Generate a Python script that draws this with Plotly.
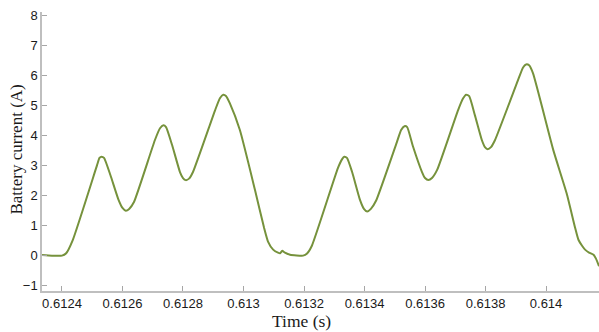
import plotly.graph_objects as go

# Data (time in s, current in A)
time_s = [
    0.612334, 0.612367, 0.612400, 0.612413, 0.612436, 0.612516, 0.612524, 0.612531, 0.612539,
    0.612560, 0.612587, 0.612600, 0.612611, 0.612622, 0.612638,
    0.612707, 0.612724, 0.612735, 0.612744,
    0.612764, 0.612790, 0.612800, 0.612809, 0.612820, 0.612833,
    0.612906, 0.612922, 0.612933, 0.612942, 0.612955,
    0.612988, 0.613038, 0.613068, 0.613081, 0.613098, 0.613114, 0.613121, 0.613128, 0.613137,
    0.613154, 0.613197, 0.613210, 0.613226,
    0.613312, 0.613326, 0.613333, 0.613342,
    0.613359, 0.613385, 0.613398, 0.613409, 0.613421, 0.613438,
    0.613507, 0.613521, 0.613532, 0.613541,
    0.613560, 0.613590, 0.613600, 0.613611, 0.613623, 0.613640,
    0.613709, 0.613726, 0.613736, 0.613746,
    0.613765, 0.613788, 0.613798, 0.613807, 0.613818, 0.613831,
    0.613907, 0.613924, 0.613934, 0.613944, 0.613957,
    0.614024, 0.614068, 0.614096, 0.614107, 0.614119, 0.614129, 0.614142, 0.614157, 0.614165, 0.614175,
]
current_a = [
    0.02, 0.00, 0.00, 0.07, 0.53, 3.02, 3.26, 3.30, 3.26,
    2.69, 1.86, 1.59, 1.50, 1.56, 1.79,
    3.85, 4.25, 4.35, 4.29,
    3.69, 2.79, 2.59, 2.52, 2.57, 2.79,
    4.85, 5.25, 5.37, 5.33, 5.08,
    4.19, 2.19, 0.93, 0.47, 0.20, 0.10, 0.08, 0.16, 0.10,
    0.03, 0.00, 0.07, 0.33,
    2.92, 3.22, 3.30, 3.26,
    2.79, 1.86, 1.56, 1.47, 1.56, 1.83,
    3.79, 4.19, 4.32, 4.29,
    3.65, 2.79, 2.59, 2.52, 2.59, 2.86,
    4.85, 5.25, 5.37, 5.32,
    4.68, 3.85, 3.62, 3.55, 3.62, 3.85,
    5.85, 6.28, 6.38, 6.35, 6.08,
    3.52, 2.08, 0.93, 0.53, 0.33, 0.20, 0.10, 0.03, -0.10, -0.35,
]

x_tick_vals = [0.6124, 0.6126, 0.6128, 0.6130, 0.6132, 0.6134, 0.6136, 0.6138, 0.6140]
x_tick_text = ["0.6124", "0.6126", "0.6128", "0.613", "0.6132", "0.6134", "0.6136", "0.6138", "0.614"]
y_tick_vals = [-1, 0, 1, 2, 3, 4, 5, 6, 7, 8]

fig = go.Figure()
fig.add_trace(go.Scatter(
    x=time_s, y=current_a, mode="lines",
    line=dict(color="#76923c", width=2, shape="spline", smoothing=0.5),
    hoverinfo="skip", showlegend=False,
))

axis_grey = "#bfbfbf"
fig.update_layout(
    width=599, height=332,
    margin=dict(l=42, r=0, t=12, b=40.5),
    paper_bgcolor="white", plot_bgcolor="white",
    font=dict(family="Liberation Sans, Arial, sans-serif", size=13, color="#1a1a1a"),
    xaxis=dict(
        range=[0.612334, 0.614175], tickvals=x_tick_vals, ticktext=x_tick_text,
        showgrid=False, zeroline=False, showline=True, linecolor=axis_grey, linewidth=1.5,
        ticks="inside", ticklen=5, tickcolor="#a6a6a6", tickwidth=1,
        tickfont=dict(size=13), fixedrange=True,
    ),
    yaxis=dict(
        range=[-1.18, 8.13], tickvals=y_tick_vals,
        showgrid=False, zeroline=False, showline=True, linecolor=axis_grey, linewidth=1.5,
        ticks="inside", ticklen=5, tickcolor="#a6a6a6", tickwidth=1,
        tickfont=dict(size=13), fixedrange=True,
    ),
    annotations=[
        dict(text="Time (s)", xref="paper", yref="paper", x=0.465, y=-0.108,
             xanchor="center", yanchor="middle", showarrow=False,
             font=dict(family="Liberation Serif, Times New Roman, serif", size=17.5, color="#1a1a1a")),
        dict(text="Battery current (A)", xref="paper", yref="paper", x=-0.0449, y=0.507,
             xanchor="center", yanchor="middle", showarrow=False, textangle=-90,
             font=dict(family="Liberation Serif, Times New Roman, serif", size=17, color="#1a1a1a")),
    ],
)

fig.write_html("out.html")
